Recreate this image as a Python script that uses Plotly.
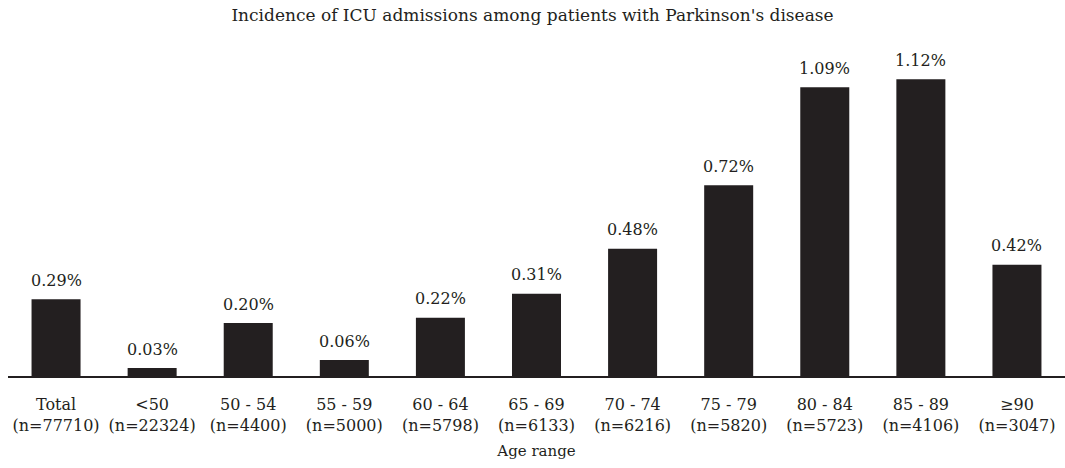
import plotly.graph_objects as go

# age groups and ICU admission incidence (%)
age_groups = ["Total", "<50", "50 - 54", "55 - 59", "60 - 64", "65 - 69",
              "70 - 74", "75 - 79", "80 - 84", "85 - 89", "≥90"]
n_patients = [77710, 22324, 4400, 5000, 5798, 6133, 6216, 5820, 5723, 4106, 3047]
incidence = [0.29, 0.03, 0.20, 0.06, 0.22, 0.31, 0.48, 0.72, 1.09, 1.12, 0.42]

BAR_COLOR = "#231f20"
FONT = "DejaVu Serif"

tick_labels = [f"{g}<br>(n={n})" for g, n in zip(age_groups, n_patients)]

fig = go.Figure()

fig.add_trace(go.Bar(
    x=tick_labels,
    y=incidence,
    marker=dict(color=BAR_COLOR, line_width=0),
    hovertemplate="%{x}: %{y:.2f}%<extra></extra>"
))

# value labels above each bar
for label, val in zip(tick_labels, incidence):
    fig.add_annotation(
        x=label, y=val,
        text=f"{val:.2f}%",
        showarrow=False,
        yanchor="middle",
        yshift=19,
        font=dict(family=FONT, size=16, color=BAR_COLOR)
    )

fig.update_layout(
    width=1065,
    height=468,
    margin=dict(l=8, r=0, t=40, b=92),
    title=dict(
        text="Incidence of ICU admissions among patients with Parkinson's disease",
        x=0.5, xanchor="center",
        y=0.967, yanchor="middle",
        font=dict(family=FONT, size=17, color=BAR_COLOR)
    ),
    bargap=0.49,
    plot_bgcolor="white",
    paper_bgcolor="white",
    font=dict(family=FONT, size=16, color=BAR_COLOR),
    showlegend=False,
    xaxis=dict(
        showline=True,
        linecolor=BAR_COLOR,
        linewidth=1.5,
        ticks="",
        ticklabelstandoff=13,
        tickfont=dict(family=FONT, size=16, color=BAR_COLOR),
        title=dict(text="Age range", standoff=12,
                   font=dict(family=FONT, size=15, color=BAR_COLOR)),
        showgrid=False
    ),
    yaxis=dict(
        range=[0, 1.268],
        visible=False,
        showgrid=False,
        zeroline=False
    )
)

# drop the default page margin so the figure sits at the window's corner
fig.write_html(
    "out.html",
    config={"displayModeBar": False},
    post_script="document.body.style.margin = '0';"
)
